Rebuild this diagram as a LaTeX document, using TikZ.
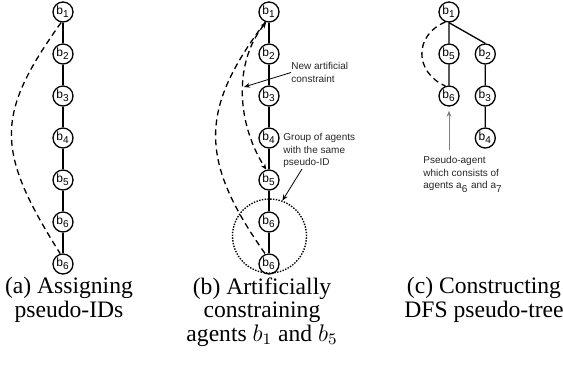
\documentclass[tikz,border=0pt]{standalone}
\usepackage{fontspec}
\setmainfont{Liberation Serif}
\newfontfamily\agentfont{Liberation Sans}
\usetikzlibrary{positioning,arrows.meta}

\begin{document}
\begin{tikzpicture}[x=0.5pt, y=-0.5pt,
    agent/.style={circle, draw, line width=0.65pt, minimum size=10pt, inner sep=0pt,
                  font=\agentfont\fontsize{6}{7}\selectfont},
    link/.style={line width=0.65pt},
    constr/.style={line width=0.65pt, dash pattern=on 3pt off 2pt},
    note/.style={font=\agentfont\fontsize{5}{6.25}\selectfont, align=left, inner sep=0pt, text=black!85},
    caption/.style={font=\fontsize{11.8}{11.75}\selectfont, align=center, inner sep=0pt},
    node distance=10.35pt, >={Stealth[length=3pt,width=2.4pt]}]
    \useasboundingbox (0,0) rectangle (563,388);

    % (a) pseudo-IDs
    \node[agent] (a1) at (63,12) {b\textsubscript{1}};
    \node[agent, below=of a1] (a2) {b\textsubscript{2}};
    \node[agent, below=of a2] (a3) {b\textsubscript{3}};
    \node[agent, below=of a3] (a4) {b\textsubscript{4}};
    \node[agent, below=of a4] (a5) {b\textsubscript{5}};
    \node[agent, below=of a5] (a6) {b\textsubscript{6}};
    \node[agent, below=of a6] (a7) {b\textsubscript{6}};
    \draw[link] (a1) -- (a2) -- (a3) -- (a4) -- (a5) -- (a6) -- (a7);
    \draw[constr] (a1.260) .. controls (-5,115) and (-5,150) .. (a7.105);

    % (b) artificial constraint
    \node[agent] (b1) at (269,12) {b\textsubscript{1}};
    \node[agent, below=of b1] (b2) {b\textsubscript{2}};
    \node[agent, below=of b2] (b3) {b\textsubscript{3}};
    \node[agent, below=of b3] (b4) {b\textsubscript{4}};
    \node[agent, below=of b4] (b5) {b\textsubscript{5}};
    \node[agent, below=of b5] (b6) {b\textsubscript{6}};
    \node[agent, below=of b6] (b7) {b\textsubscript{6}};
    \draw[link] (b1) -- (b2) -- (b3) -- (b4) -- (b5) -- (b6) -- (b7);
    \draw[constr] (b1.250) .. controls (199,110) and (199,160) .. (b7.110);
    \draw[constr, <->] (b1.255) .. controls (235,60) and (235,120) .. (b5.105);
    \node[note, anchor=west] (newc) at (291,72.5) {New artificial\\constraint};
    \coordinate (hit) at (244,87);
    \draw[->, line width=0.4pt] (newc.west) -- (hit);
    \node[note, anchor=west] (grp) at (283,150.5) {Group of agents\\with the same\\pseudo-ID};
    \node[circle, draw, line width=0.7pt, dash pattern=on 0.7pt off 0.7pt, minimum size=37pt] (same) at (269.5,236) {};
    \coordinate (gstart) at (302,169);
    \draw[->, line width=0.4pt] (gstart) -- (same.70);

    % (c) DFS pseudo-tree
    \node[agent] (c1) at (449,12) {b\textsubscript{1}};
    \node[agent, below=of c1] (c5) {b\textsubscript{5}};
    \node[agent, right=7.5pt of c5] (c2) {b\textsubscript{2}};
    \node[agent, below=of c5] (c6) {b\textsubscript{6}};
    \node[agent, below=of c2] (c3) {b\textsubscript{3}};
    \node[agent, below=of c3] (c4) {b\textsubscript{4}};
    \draw[link] (c1) -- (c5) -- (c6) (c1.south) -- (c2.north) (c2) -- (c3) -- (c4);
    \draw[constr] (c1.250) .. controls (414,35) and (414,72) .. (c6.110);
    \node[note, anchor=north west] (pseudo) at (423,156) {Pseudo-agent\\which consists of\\agents a\textsubscript{6} and a\textsubscript{7}};
    \draw[->, gray, line width=0.5pt, shorten <=3pt, shorten >=2pt] (pseudo.north -| c6) -- (c6.south);

    % captions
    \node[caption, anchor=north] (capa) at (69,277) {(a) Assigning\\pseudo-IDs};
    \node[caption, anchor=north] (capb) at (262,277) {(b) Artificially\\constraining\\agents $b_1$ and $b_5$};
    \node[caption, anchor=north] (capc) at (484,277) {(c) Constructing\\DFS pseudo-tree};
\end{tikzpicture}
\end{document}
